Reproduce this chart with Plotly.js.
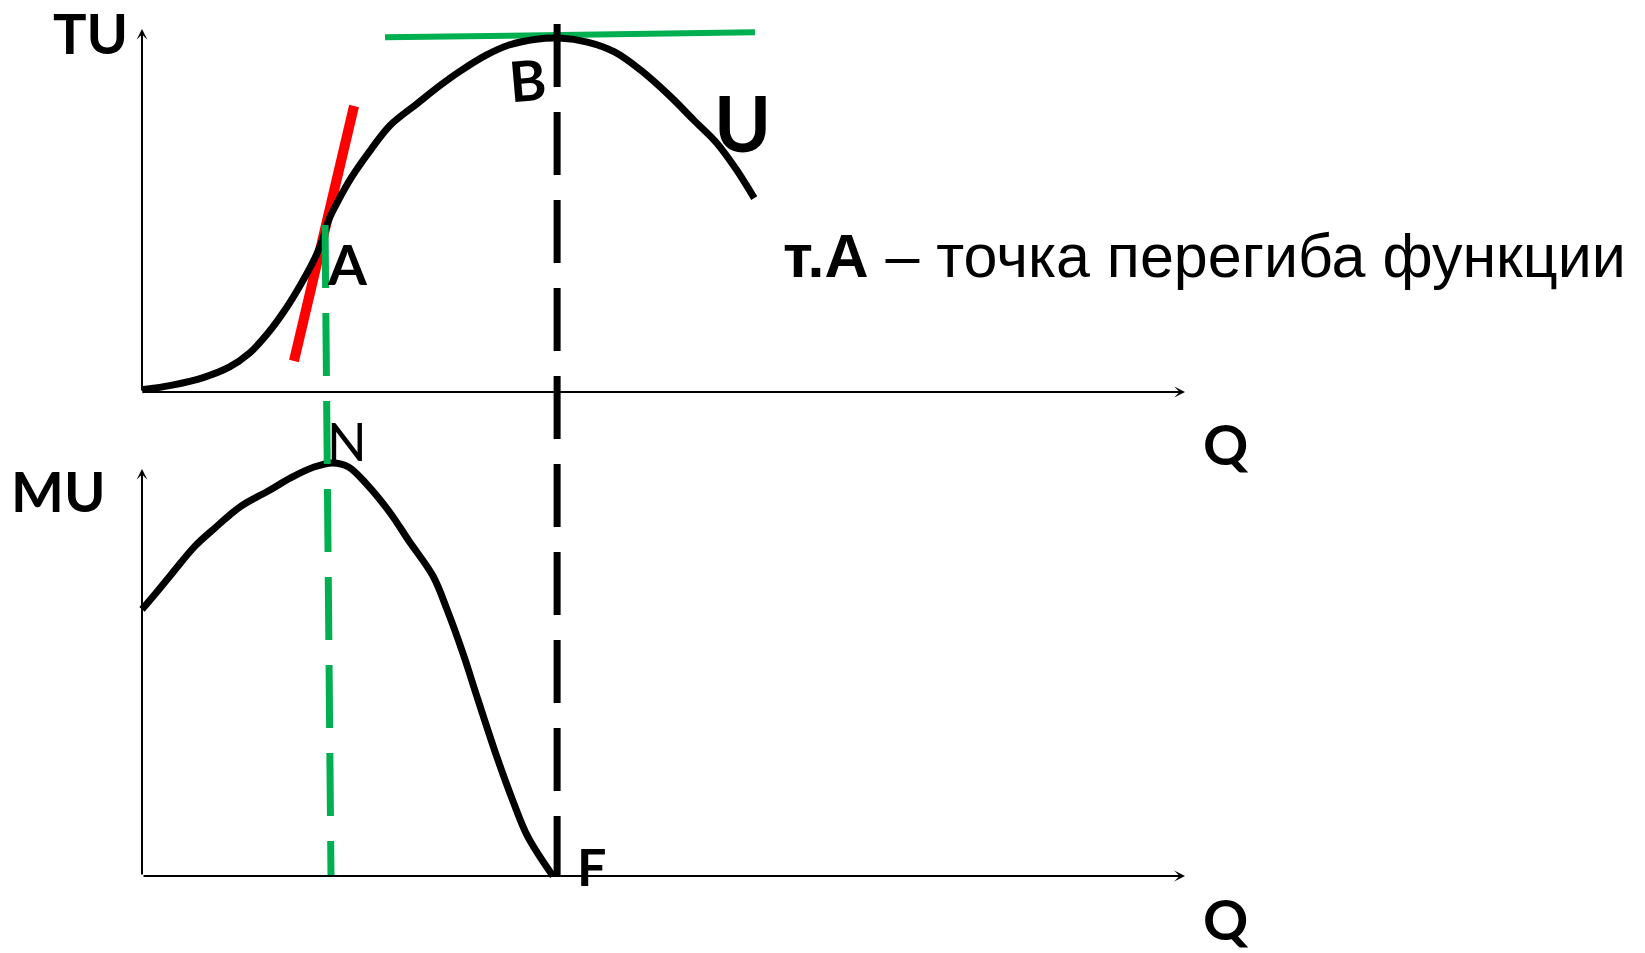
<!DOCTYPE html>
<html>
<head>
<meta charset="utf-8">
<script src="https://cdn.plot.ly/plotly-3.0.1.min.js"></script>
<style>
html,body{margin:0;padding:0;background:#ffffff;}
#chart{width:1645px;height:953px;}
</style>
</head>
<body>
<div id="chart"></div>
<script>
// ---------------- DATA ----------------
// Total utility TU(Q)
const tuQ   = [0.00,0.29,0.58,0.84,1.03,1.21,1.39,1.53,1.65,1.73,1.79,1.87,2.01,2.20,2.38,2.64,2.86,3.04,3.30,3.52,3.78,4.00,4.27,4.53,4.78,5.07,5.29,5.51,5.70,5.87];
const tuVal = [0.06,0.19,0.39,0.69,1.07,1.63,2.34,3.00,3.64,4.19,4.74,5.21,5.92,6.70,7.35,7.95,8.45,8.82,9.28,9.56,9.72,9.75,9.64,9.37,8.87,8.13,7.49,6.86,6.12,5.34];
// Marginal utility MU(Q)
const muQ   = [0.00,0.11,0.29,0.51,0.69,0.95,1.21,1.43,1.65,1.83,1.98,2.16,2.38,2.56,2.79,2.93,3.08,3.22,3.41,3.56,3.70,3.94];
const muVal = [6.55,6.88,7.44,8.11,8.53,9.09,9.46,9.79,10.05,10.15,10.05,9.61,8.92,8.23,7.37,6.51,5.45,4.34,2.87,1.82,0.96,0.00];
// Tangent at inflection point A (red)
const tangentAQ  = [1.457, 2.033];
const tangentATU = [0.854, 7.879];
// Tangent at the maximum B (green)
const tangentBQ  = [2.33, 5.877];
const tangentBTU = [9.77, 9.91];
// Q of the TU maximum (B / F) and of the inflection (A / N), top and bottom of the guide
const qMax = 3.98;
const qInflection = [1.755, 1.812];
// Axis extents
const axisMaxQ = 10, axisMaxTU = 10, axisMaxMU = 10;
// Labels
const labelTexts = ['TU','B','U','A','N','MU','Q','Q','F'];
const noteText = '<b>т.А</b> – точка перегиба функции';

// ---------------- LAYOUT GEOMETRY ----------------
const W = 1645, H = 953;
const originX = 142, qPx = 104.3;          // pixel of Q=0, pixels per Q unit
const topOriginY = 392, tuPx = 36.3;        // TU panel
const botOriginY = 876, muPx = 40.7;        // MU panel
const splitY = 430;                          // panel boundary in pixels

const xRange = [-originX/qPx, (W-originX)/qPx];
const yTopRange = [(topOriginY-splitY)/tuPx, topOriginY/tuPx];
const yBotRange = [(botOriginY-H)/muPx, (botOriginY-splitY)/muPx];
const px2paperY = py => 1 - py/H;
const px2paperX = px => px/W;

const black = '#000000', red = '#FF0000', green = '#00B050';

const traces = [
  {x: tangentAQ, y: tangentATU, xaxis:'x', yaxis:'y', mode:'lines', line:{color:red, width:10}, hoverinfo:'skip'},
  {x: tangentBQ, y: tangentBTU, xaxis:'x', yaxis:'y', mode:'lines', line:{color:green, width:6}, hoverinfo:'skip'},
  {x: tuQ, y: tuVal, xaxis:'x', yaxis:'y', mode:'lines', line:{color:black, width:7, shape:'spline', smoothing:1}, hoverinfo:'skip'},
  {x: muQ, y: muVal, xaxis:'x2', yaxis:'y2', mode:'lines', line:{color:black, width:7, shape:'spline', smoothing:1}, hoverinfo:'skip'}
];

function axisArrow(xr, yr, x, y, ax, ay) {
  return {xref:xr, yref:yr, axref:xr, ayref:yr, x:x, y:y, ax:ax, ay:ay, text:'',
          showarrow:true, arrowhead:3, arrowsize:0.9, arrowwidth:2, arrowcolor:black, standoff:0, startstandoff:0};
}

const labelFont = 'Lato, "Open Sans", sans-serif';
const labelPos = [
  {px:90,  py:33,  size:56, bold:true,  angle:0},
  {px:527, py:80,  size:56, bold:true,  angle:-5},
  {px:742, py:122, size:77, bold:true,  angle:0},
  {px:347, py:263, size:56, bold:true,  angle:0},
  {px:347, py:441, size:52, bold:false, angle:0},
  {px:58,  py:490, size:56, bold:true,  angle:0},
  {px:1226,py:443, size:56, bold:true,  angle:0},
  {px:1226,py:918, size:56, bold:true,  angle:0},
  {px:591, py:866, size:52, bold:true,  angle:0}
];

const annotations = [
  axisArrow('x','y', 0, axisMaxTU, 0, 0),
  axisArrow('x','y', axisMaxQ, 0, 0, 0),
  axisArrow('x2','y2', 0, axisMaxMU, 0, 0),
  axisArrow('x2','y2', axisMaxQ, 0, 0, 0)
];
labelTexts.forEach((t, i) => {
  const p = labelPos[i];
  annotations.push({xref:'paper', yref:'paper', x:px2paperX(p.px), y:px2paperY(p.py),
    xanchor:'center', yanchor:'middle', showarrow:false, textangle:p.angle,
    text: p.bold ? '<b>'+t+'</b>' : t,
    font:{family:labelFont, size:p.size, color:black}});
});
annotations.push({xref:'paper', yref:'paper', x:px2paperX(1204), y:px2paperY(256),
  xanchor:'center', yanchor:'middle', showarrow:false, text:noteText,
  font:{family:'"Liberation Sans", Arial, sans-serif', size:61, color:black}});

const shapes = [
  {type:'line', xref:'x', yref:'paper', x0:qMax, x1:qMax, y0:px2paperY(24), y1:px2paperY(876),
   line:{color:black, width:7, dash:'63px,25px'}},
  {type:'line', xref:'x', yref:'paper', x0:qInflection[0], x1:qInflection[1], y0:px2paperY(225), y1:px2paperY(876),
   line:{color:green, width:7, dash:'63px,25px'}}
];

const hiddenAxis = {showgrid:false, zeroline:false, showline:false, showticklabels:false, ticks:'', fixedrange:true};

const layout = {
  width: W, height: H,
  margin: {l:0, r:0, t:0, b:0, pad:0},
  paper_bgcolor:'#ffffff', plot_bgcolor:'#ffffff',
  showlegend:false,
  xaxis: Object.assign({}, hiddenAxis, {domain:[0,1], range:xRange, anchor:'y'}),
  yaxis: Object.assign({}, hiddenAxis, {domain:[px2paperY(splitY),1], range:yTopRange, anchor:'x'}),
  xaxis2: Object.assign({}, hiddenAxis, {domain:[0,1], range:xRange, anchor:'y2', matches:'x'}),
  yaxis2: Object.assign({}, hiddenAxis, {domain:[0,px2paperY(splitY)], range:yBotRange, anchor:'x2'}),
  annotations: annotations,
  shapes: shapes
};

Plotly.newPlot('chart', traces, layout, {staticPlot:true, displayModeBar:false});
</script>
</body>
</html>
